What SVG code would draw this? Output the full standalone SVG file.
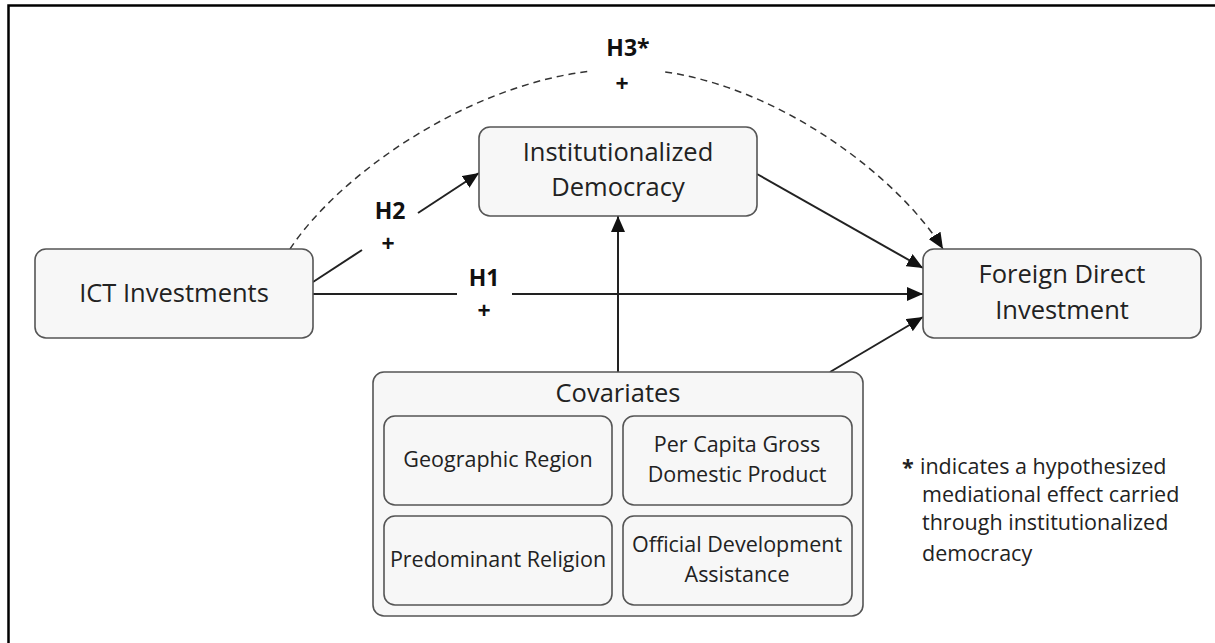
<svg xmlns="http://www.w3.org/2000/svg" width="1215" height="643" viewBox="0 0 1215 643">
<style>
.box{fill:#f7f7f7;stroke:#555;stroke-width:1.6}
.t{font-family:"Open Sans","Liberation Sans",sans-serif;font-size:25.5px;fill:#222;text-anchor:middle}
.s{font-family:"Open Sans","Liberation Sans",sans-serif;font-size:21.5px;fill:#222;text-anchor:middle}
.lg{font-family:"Open Sans","Liberation Sans",sans-serif;font-size:21.5px;fill:#222}
.b{font-family:"Open Sans","Liberation Sans",sans-serif;font-size:23px;font-weight:bold;fill:#111;text-anchor:middle}
.e{fill:none;stroke:#222;stroke-width:2}
.d{fill:none;stroke:#333;stroke-width:1.5;stroke-dasharray:7,5}
</style>
<defs>
<marker id="ah" markerUnits="userSpaceOnUse" markerWidth="18" markerHeight="14" refX="16" refY="7" orient="auto">
<path d="M0,0 L16,7 L0,14 Z" fill="#111"/>
</marker>
</defs>
<rect x="0" y="0" width="1215" height="643" fill="#fff"/>
<path d="M8.5,643 V5.5 H1215" fill="none" stroke="#000" stroke-width="2.5"/>

<g id="connectors">
<path class="d" d="M290,249 C337.3,177.1 462.5,87 588.6,71.3"/>
<path class="d" d="M665.2,71.9 C782.9,89 898.9,177.9 943,249" marker-end="url(#ah)"/>
<path class="e" d="M313,282 L362,250"/>
<path class="e" d="M418,213 L479,173" marker-end="url(#ah)"/>
<path class="e" d="M313,294 H457"/>
<path class="e" d="M512,294 H923" marker-end="url(#ah)"/>
<path class="e" d="M757,174 L923,268" marker-end="url(#ah)"/>
<path class="e" d="M618,372 V216" marker-end="url(#ah)"/>
<path class="e" d="M830,372 L923,317" marker-end="url(#ah)"/>
<text class="b" x="628" y="56">H3*</text>
<text class="b" x="622" y="92">+</text>
<text class="b" x="390" y="219">H2</text>
<text class="b" x="388" y="252">+</text>
<text class="b" x="484" y="286">H1</text>
<text class="b" x="484" y="319">+</text>
</g>

<g id="ict">
<rect class="box" x="35" y="249" width="278" height="89" rx="11"/>
<text class="t" x="174" y="302">ICT Investments</text>
</g>
<g id="democracy">
<rect class="box" x="479" y="127" width="278" height="89" rx="11"/>
<text class="t" x="618" y="161">Institutionalized</text>
<text class="t" x="618" y="196">Democracy</text>
</g>
<g id="fdi">
<rect class="box" x="923" y="249" width="278" height="89" rx="11"/>
<text class="t" x="1062" y="283">Foreign Direct</text>
<text class="t" x="1062" y="319">Investment</text>
</g>
<g id="covariates">
<rect class="box" x="373" y="372" width="490" height="244" rx="11"/>
<text class="t" x="618" y="402">Covariates</text>
</g>
<g id="geo">
<rect class="box" x="384" y="416" width="228" height="89" rx="11"/>
<text class="s" x="498" y="467">Geographic Region</text>
</g>
<g id="gdp">
<rect class="box" x="623" y="416" width="229" height="89" rx="11"/>
<text class="s" x="737" y="452">Per Capita Gross</text>
<text class="s" x="737" y="482">Domestic Product</text>
</g>
<g id="religion">
<rect class="box" x="384" y="516" width="228" height="89" rx="11"/>
<text class="s" x="498" y="567">Predominant Religion</text>
</g>
<g id="oda">
<rect class="box" x="623" y="516" width="229" height="89" rx="11"/>
<text class="s" x="737" y="552">Official Development</text>
<text class="s" x="737" y="582">Assistance</text>
</g>

<g id="legend">
<text class="lg" x="902" y="475" font-weight="bold">*</text>
<text class="lg" x="920" y="474">indicates a hypothesized</text>
<text class="lg" x="922" y="502">mediational effect carried</text>
<text class="lg" x="922" y="530">through institutionalized</text>
<text class="lg" x="922" y="561">democracy</text>
</g>
</svg>
